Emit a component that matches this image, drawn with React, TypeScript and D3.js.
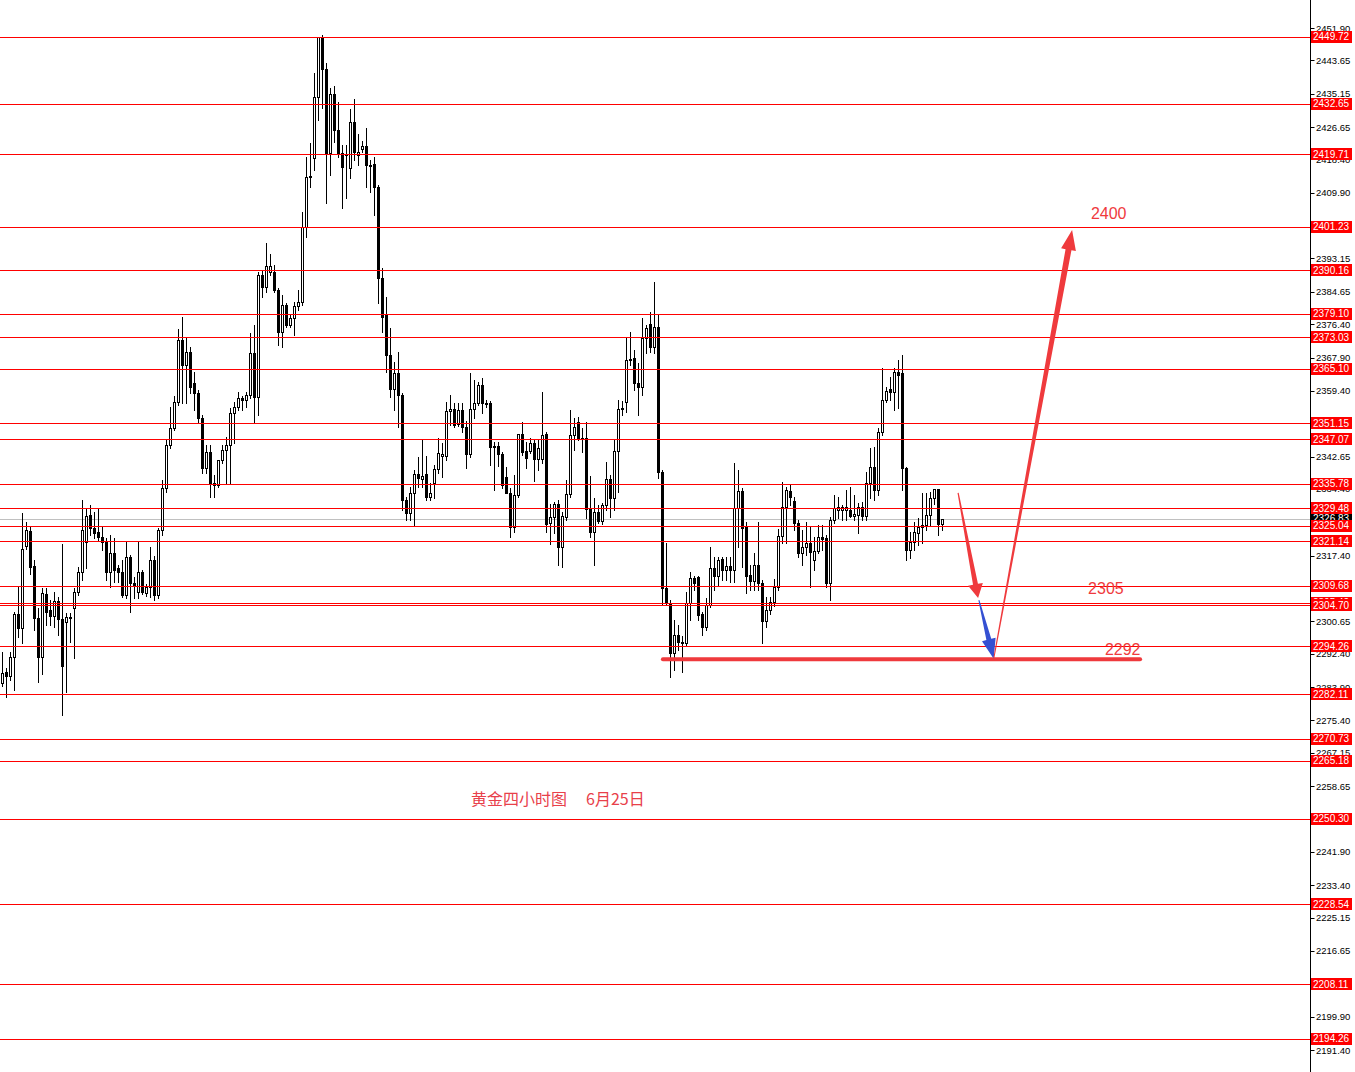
import React from 'react';
import * as d3 from 'd3';

const W = 1355;
const H = 1072;

const opens = [
2284.9,2287.8,2286.7,2291.6,2302.5,2298.9,2319.9,2323.7,2314.8,2301.5,
2291.6,2307.6,2303.5,2302.0,2305.8,2301.3,2300.5,2301.5,2304.1,2308.1,
2313.2,2320.9,2327.8,2324.5,2323.4,2322.2,2320.9,2313.2,2318.1,2314.2,
2313.2,2307.4,2317.1,2310.4,2308.1,2313.2,2307.9,2309.4,2316.3,2307.4,
2323.9,2334.6,2345.6,2349.9,2356.6,2372.4,2366.0,2369.3,2361.4,2358.9,
2352.5,2339.7,2343.8,2335.4,2335.4,2341.8,2344.3,2345.6,2353.8,2355.3,
2357.6,2357.1,2358.4,2369.1,2357.8,2388.9,2385.9,2389.7,2389.7,2385.1,
2374.4,2381.3,2376.2,2378.0,2381.0,2382.1,2401.2,2413.9,2418.8,2434.3,
2449.6,2441.5,2420.0,2435.1,2425.9,2420.0,2419.5,2416.2,2427.9,2419.5,
2421.0,2421.8,2417.0,2417.2,2411.4,2388.2,2378.7,2368.5,2359.9,2364.0,
2358.4,2331.6,2328.3,2333.4,2338.2,2336.9,2338.2,2332.4,2335.9,2339.5,
2342.8,2342.8,2354.3,2354.8,2350.9,2354.5,2350.2,2343.3,2354.8,2356.3,
2360.9,2356.1,2356.3,2345.4,2345.4,2343.3,2337.4,2333.4,2324.7,2332.9,
2348.4,2344.1,2344.1,2346.1,2342.0,2342.0,2348.4,2325.7,2327.3,2330.6,
2319.6,2327.3,2333.1,2348.1,2351.5,2347.1,2347.4,2329.3,2323.4,2328.5,
2326.2,2330.3,2336.9,2332.1,2344.1,2354.8,2356.6,2367.3,2367.8,2361.4,
2360.4,2372.9,2376.4,2370.6,2375.7,2338.7,2309.2,2305.3,2292.6,2297.2,
2295.4,2295.1,2305.3,2311.7,2311.9,2302.5,2299.2,2304.8,2314.2,2312.2,
2316.6,2313.7,2314.8,2313.7,2329.5,2333.9,2324.7,2312.5,2310.9,2315.0,
2310.4,2300.7,2303.6,2305.6,2309.4,2322.4,2329.8,2333.9,2331.3,2325.7,
2318.1,2319.6,2320.6,2316.3,2318.6,2322.2,2321.9,2310.4,2326.5,2329.0,
2329.0,2329.0,2329.0,2327.5,2327.8,2329.8,2327.5,2335.9,2340.0,2334.1,
2348.9,2357.1,2359.9,2359.1,2364.2,2363.9,2339.7,2318.9,2320.9,2323.2,
2324.7,2325.2,2327.8,2332.1,2334.4,2325.5
];

const highs = [
2292.8,2288.8,2292.8,2303.0,2309.4,2328.3,2325.9,2324.7,2316.3,2304.1,
2309.2,2309.2,2306.1,2308.1,2306.9,2320.4,2302.8,2302.8,2309.2,2314.5,
2331.6,2329.3,2330.3,2328.5,2329.5,2324.7,2321.9,2322.7,2321.9,2315.0,
2316.3,2320.9,2317.6,2312.0,2320.9,2313.7,2310.2,2319.6,2317.3,2324.5,
2336.7,2346.9,2355.3,2358.1,2375.2,2378.2,2372.9,2370.6,2364.2,2359.6,
2353.3,2345.6,2345.6,2337.9,2341.8,2345.6,2347.6,2355.0,2356.6,2359.1,
2358.1,2359.1,2374.2,2376.2,2389.7,2390.2,2397.1,2394.3,2391.5,2385.6,
2383.8,2381.8,2378.7,2382.1,2385.1,2405.0,2419.1,2422.6,2440.4,2449.6,
2450.1,2443.0,2436.6,2437.1,2433.0,2422.0,2422.0,2431.2,2433.8,2424.9,
2423.1,2426.4,2418.3,2419.0,2411.9,2390.7,2383.3,2375.4,2366.8,2369.3,
2358.9,2332.3,2334.9,2339.2,2342.6,2347.1,2342.8,2335.9,2340.5,2347.4,
2346.1,2356.6,2358.4,2356.3,2356.3,2356.3,2351.7,2364.0,2362.2,2361.7,
2362.7,2357.1,2356.8,2346.4,2346.4,2343.8,2340.0,2334.6,2337.9,2348.4,
2351.5,2346.4,2347.4,2346.9,2346.9,2359.1,2348.9,2330.6,2331.1,2331.6,
2328.5,2336.7,2354.5,2352.5,2352.7,2349.9,2351.5,2337.7,2332.1,2330.3,
2330.8,2341.3,2337.9,2346.9,2357.1,2356.8,2372.9,2374.4,2369.8,2366.5,
2378.0,2376.2,2379.5,2387.2,2378.7,2339.2,2320.6,2306.1,2301.0,2299.7,
2296.9,2308.1,2313.2,2312.2,2312.2,2303.0,2306.6,2319.6,2317.1,2317.1,
2317.1,2317.1,2317.1,2341.0,2339.2,2334.6,2326.0,2315.0,2318.1,2326.0,
2311.2,2306.9,2306.9,2311.4,2324.2,2336.1,2334.9,2335.4,2332.4,2326.5,
2324.0,2326.0,2324.7,2322.2,2325.2,2325.2,2322.7,2327.3,2332.9,2332.4,
2330.3,2334.1,2334.9,2332.9,2330.8,2331.1,2338.7,2344.8,2345.1,2349.9,
2365.2,2360.4,2362.9,2365.2,2367.3,2368.5,2340.0,2323.4,2326.0,2327.0,
2333.4,2333.4,2333.6,2334.4,2334.4,2326.8
];

const lows = [
2284.1,2281.4,2285.7,2283.2,2296.7,2295.1,2319.1,2312.7,2298.5,2285.2,
2287.2,2299.7,2299.7,2299.2,2297.2,2276.8,2282.6,2295.4,2291.3,2307.4,
2311.2,2314.2,2322.7,2321.9,2321.4,2318.9,2311.2,2309.4,2310.7,2310.7,
2306.9,2306.6,2303.0,2306.6,2306.6,2307.6,2307.1,2306.9,2306.1,2306.6,
2322.7,2333.6,2344.8,2349.4,2355.8,2356.3,2356.3,2358.9,2354.5,2351.2,
2338.5,2338.5,2332.3,2332.3,2334.9,2341.0,2335.9,2335.9,2346.1,2354.5,
2354.5,2355.3,2357.6,2351.5,2353.3,2383.3,2384.6,2388.9,2384.6,2371.1,
2370.6,2375.7,2375.7,2373.6,2380.0,2381.3,2398.6,2411.4,2415.7,2428.5,
2431.5,2407.3,2414.4,2422.8,2419.0,2406.0,2408.6,2413.6,2418.2,2417.0,
2420.3,2411.4,2410.1,2404.2,2381.8,2374.4,2364.2,2357.8,2354.5,2350.2,
2329.0,2326.5,2326.5,2324.9,2334.9,2334.9,2331.6,2331.6,2332.1,2338.5,
2337.4,2341.8,2350.7,2350.2,2350.4,2348.9,2339.7,2342.5,2352.5,2355.8,
2353.8,2355.3,2340.5,2334.1,2340.2,2334.6,2333.4,2322.2,2323.4,2332.4,
2343.0,2339.7,2343.6,2336.4,2339.2,2341.0,2323.4,2320.4,2323.2,2315.0,
2314.5,2326.5,2332.4,2344.3,2346.9,2343.8,2327.0,2322.2,2315.0,2325.7,
2325.5,2329.0,2327.2,2329.0,2333.6,2353.3,2354.0,2366.0,2359.6,2353.3,
2358.4,2369.1,2369.3,2369.1,2337.2,2304.8,2304.8,2286.5,2288.3,2293.4,
2287.8,2294.6,2301.0,2308.7,2301.0,2297.2,2298.5,2304.3,2308.7,2309.9,
2311.2,2311.2,2310.7,2310.7,2319.6,2314.5,2307.9,2308.7,2308.7,2308.7,
2295.1,2299.2,2302.5,2304.6,2308.7,2320.6,2320.6,2330.3,2324.0,2317.1,
2315.0,2317.6,2309.4,2313.8,2318.1,2318.9,2309.4,2306.1,2325.7,2327.0,
2326.5,2326.5,2327.2,2326.5,2323.2,2326.5,2326.5,2332.1,2331.6,2332.9,
2348.1,2356.6,2357.1,2354.5,2355.0,2334.1,2316.3,2316.8,2318.9,2320.1,
2320.6,2324.0,2325.2,2330.6,2322.7,2324.0
];

const closes = [
2287.5,2286.7,2291.6,2302.5,2298.9,2319.1,2323.9,2314.5,2301.5,2291.6,
2307.9,2303.0,2302.0,2305.8,2301.3,2289.3,2301.8,2301.8,2308.1,2313.2,
2323.9,2327.5,2324.5,2323.2,2322.2,2320.9,2313.2,2318.1,2313.7,2313.2,
2307.4,2317.1,2310.4,2309.7,2313.2,2308.1,2309.4,2316.3,2307.4,2323.9,
2334.6,2345.6,2349.9,2356.6,2372.4,2366.0,2369.3,2360.4,2358.9,2352.5,
2339.7,2343.8,2335.9,2335.9,2341.8,2344.3,2345.6,2353.8,2355.3,2357.6,
2357.1,2358.4,2369.1,2357.8,2388.9,2385.9,2391.2,2391.2,2385.1,2374.4,
2381.3,2376.2,2378.0,2381.0,2382.1,2401.2,2413.9,2414.2,2434.3,2449.6,
2441.5,2420.0,2435.1,2425.9,2420.0,2416.5,2419.7,2427.9,2420.3,2420.3,
2421.8,2417.0,2416.7,2411.4,2388.2,2378.2,2368.5,2359.9,2364.0,2358.4,
2331.6,2328.3,2333.4,2338.2,2337.2,2337.7,2332.4,2333.4,2339.5,2343.6,
2343.3,2354.3,2354.8,2350.7,2354.5,2350.2,2343.3,2354.8,2356.3,2360.9,
2356.3,2356.3,2345.1,2345.1,2343.3,2335.4,2333.4,2324.7,2332.9,2348.4,
2343.8,2342.3,2346.1,2342.0,2344.8,2348.1,2325.5,2327.3,2330.6,2319.6,
2327.5,2333.1,2348.1,2350.2,2347.4,2347.4,2329.3,2323.4,2328.5,2326.2,
2330.3,2336.9,2332.1,2344.1,2354.8,2355.0,2367.3,2367.5,2361.4,2360.4,
2372.9,2375.4,2370.6,2375.7,2338.7,2309.2,2305.3,2292.6,2297.2,2295.4,
2295.1,2305.3,2311.7,2310.4,2302.3,2299.2,2304.8,2314.2,2312.2,2316.3,
2313.7,2314.8,2313.7,2329.5,2333.9,2324.5,2312.2,2310.9,2315.0,2310.4,
2300.7,2303.6,2305.6,2309.4,2322.4,2329.8,2334.1,2332.4,2325.7,2318.1,
2319.6,2320.6,2318.3,2318.6,2322.2,2321.6,2310.4,2326.5,2329.5,2329.8,
2329.8,2329.8,2327.5,2328.0,2329.8,2327.5,2335.9,2340.0,2334.1,2348.9,
2357.1,2359.4,2359.1,2364.2,2363.4,2339.7,2318.9,2320.9,2323.4,2324.7,
2325.2,2327.8,2332.1,2334.4,2325.5,2326.8
];

const levelPrices = [
  2449.72, 2432.65, 2419.71, 2401.23, 2390.16, 2379.10, 2373.03, 2365.10,
  2351.15, 2347.07, 2335.78, 2329.48, 2325.04, 2321.14, 2309.68, 2305.42,
  2304.70, 2294.26, 2282.11, 2270.73, 2265.18, 2250.30, 2228.54, 2208.11,
  2194.26,
];

// visible price-scale ticks (those fully covered by level labels are not shown)
const axisTicks = [
  2451.9, 2443.65, 2435.15, 2426.65, 2418.4, 2409.9, 2393.15,
  2384.65, 2376.4, 2367.9, 2359.4, 2342.65, 2334.4,
  2317.4, 2300.65, 2292.4, 2283.9, 2275.4, 2267.15, 2258.65,
  2241.9, 2233.4, 2225.15, 2216.65, 2199.9, 2191.4,
];

const lastPrice = 2326.83;

// annotation anchors in (bar index, price)
const supportLine = { price: 2291.0, from: 165.1, to: 284.4 };
const downArrow = { from: [238.9, 2333.4], to: [243.9, 2306.6] };
const blueArrow = { from: [244.1, 2306.1], to: [247.8, 2291.1] };
const upArrow = { from: [247.8, 2291.1], to: [267.4, 2400.4] };
const targetLabels = [
  { text: '2400', idx: 272.1, price: 2403.3 },
  { text: '2305', idx: 271.4, price: 2307.6 },
  { text: '2292', idx: 275.6, price: 2292.1 },
];
const titleText = '黄金四小时图';
const dateText = '6月25日';

const AXIS_X = 1310.5;
const LINE_RED = '#ff0000';
const ANNO_RED = '#ef3a3d';
const ANNO_BLUE = '#3550d2';

function arrowPath(
  x1: number, y1: number, x2: number, y2: number,
  w0: number, w1: number, headLen: number, headW: number
) {
  const dx = x2 - x1, dy = y2 - y1;
  const L = Math.hypot(dx, dy);
  const ux = dx / L, uy = dy / L;
  const px = -uy, py = ux;
  const bx = x2 - ux * headLen, by = y2 - uy * headLen;
  const pts: [number, number][] = [
    [x1 + (px * w0) / 2, y1 + (py * w0) / 2],
    [bx + (px * w1) / 2, by + (py * w1) / 2],
    [bx + (px * headW) / 2, by + (py * headW) / 2],
    [x2, y2],
    [bx - (px * headW) / 2, by - (py * headW) / 2],
    [bx - (px * w1) / 2, by - (py * w1) / 2],
    [x1 - (px * w0) / 2, y1 - (py * w0) / 2],
  ];
  return (d3.line()(pts) || '') + 'Z';
}

export default function App() {
  const y = d3.scaleLinear().domain([2451.9, 2191.4]).range([28, 1050]);
  const x = d3.scaleLinear().domain([0, 235]).range([2.5, 942.5]);

  const candles = opens.map((o, i) => {
    const c = closes[i];
    const hi = Math.max(highs[i], o, c);
    const lo = Math.min(lows[i], o, c);
    const cx = x(i);
    const yTop = Math.round(y(Math.max(o, c)));
    const yBot = Math.round(y(Math.min(o, c)));
    const bull = c >= o;
    return (
      <g key={i}>
        <line x1={cx} x2={cx} y1={Math.round(y(hi))} y2={Math.round(y(lo)) + 1} stroke="#000" strokeWidth={1} />
        {bull ? (
          <rect x={cx - 1} y={yTop + 0.5} width={2} height={Math.max(yBot - yTop, 1)} fill="#fff" stroke="#000" strokeWidth={1} />
        ) : (
          <rect x={cx - 1.5} y={yTop} width={3} height={Math.max(yBot - yTop + 1, 1)} fill="#000" />
        )}
      </g>
    );
  });

  const py = (p: number) => Math.round(y(p)) + 0.5;

  const dA = arrowPath(x(downArrow.from[0]), y(downArrow.from[1]), x(downArrow.to[0]), y(downArrow.to[1]), 1.2, 5, 14, 15);
  const bA = arrowPath(x(blueArrow.from[0]), y(blueArrow.from[1]), x(blueArrow.to[0]), y(blueArrow.to[1]), 1, 5, 20, 14);
  const uA = arrowPath(x(upArrow.from[0]), y(upArrow.from[1]), x(upArrow.to[0]), y(upArrow.to[1]), 1, 6, 20, 15);

  return (
    <div style={{ position: 'absolute', left: 0, top: 0, width: W, height: H, background: '#fff' }}>
      <svg width={W} height={H} style={{ display: 'block' }}>
        <rect x={0} y={0} width={W} height={H} fill="#fff" />
        {/* current price line */}
        <line x1={0} x2={AXIS_X} y1={py(lastPrice)} y2={py(lastPrice)} stroke="#c0c0c0" strokeWidth={1} />
        <g>{candles}</g>
        {/* level lines */}
        {levelPrices.map((p) => (
          <line key={p} x1={0} x2={AXIS_X} y1={py(p)} y2={py(p)} stroke={LINE_RED} strokeWidth={1} />
        ))}
        {/* annotations */}
        <line
          x1={x(supportLine.from)} x2={x(supportLine.to)}
          y1={y(supportLine.price)} y2={y(supportLine.price)}
          stroke={ANNO_RED} strokeWidth={4} strokeLinecap="round"
        />
        <path d={dA} fill={ANNO_RED} />
        <path d={bA} fill={ANNO_BLUE} />
        <path d={uA} fill={ANNO_RED} />
        {targetLabels.map((t) => (
          <text key={t.text} x={x(t.idx)} y={y(t.price)} fill={ANNO_RED} fontSize={16}
            fontFamily="'Liberation Sans', Arial, sans-serif">{t.text}</text>
        ))}
        <text x={471} y={805} fill="#e8404a" fontSize={16} fontFamily="'Noto Sans CJK SC', sans-serif">{titleText}</text>
        <text x={586} y={805} fill="#e8404a" fontSize={16} fontFamily="'Noto Sans CJK SC', sans-serif">{dateText}</text>

        {/* right axis */}
        <rect x={AXIS_X} y={0} width={W - AXIS_X} height={H} fill="#fff" />
        <line x1={AXIS_X} x2={AXIS_X} y1={0} y2={H} stroke="#000" strokeWidth={1} />
        {axisTicks.map((t) => (
          <g key={t}>
            <line x1={AXIS_X} x2={AXIS_X + 4} y1={py(t)} y2={py(t)} stroke="#000" strokeWidth={1} />
            <text x={1316} y={y(t) + 3.5} fontSize={9.5} fill="#000" fontFamily="'Liberation Sans', Arial, sans-serif">
              {t.toFixed(2)}
            </text>
          </g>
        ))}
        <g>
          <rect x={1311} y={Math.round(y(lastPrice)) - 6} width={41} height={12} fill="#000" />
          <text x={1313} y={y(lastPrice) + 3.5} fontSize={10} fill="#fff" fontFamily="'Liberation Sans', Arial, sans-serif">
            {lastPrice.toFixed(2)}
          </text>
        </g>
        {levelPrices.map((p) => (
          <g key={'l' + p}>
            <rect x={1311} y={Math.round(y(p)) - 6} width={41} height={12} fill={LINE_RED} />
            <text x={1313} y={y(p) + 3.5} fontSize={10} fill="#fff" fontFamily="'Liberation Sans', Arial, sans-serif">
              {p.toFixed(2)}
            </text>
          </g>
        ))}
      </svg>
    </div>
  );
}
